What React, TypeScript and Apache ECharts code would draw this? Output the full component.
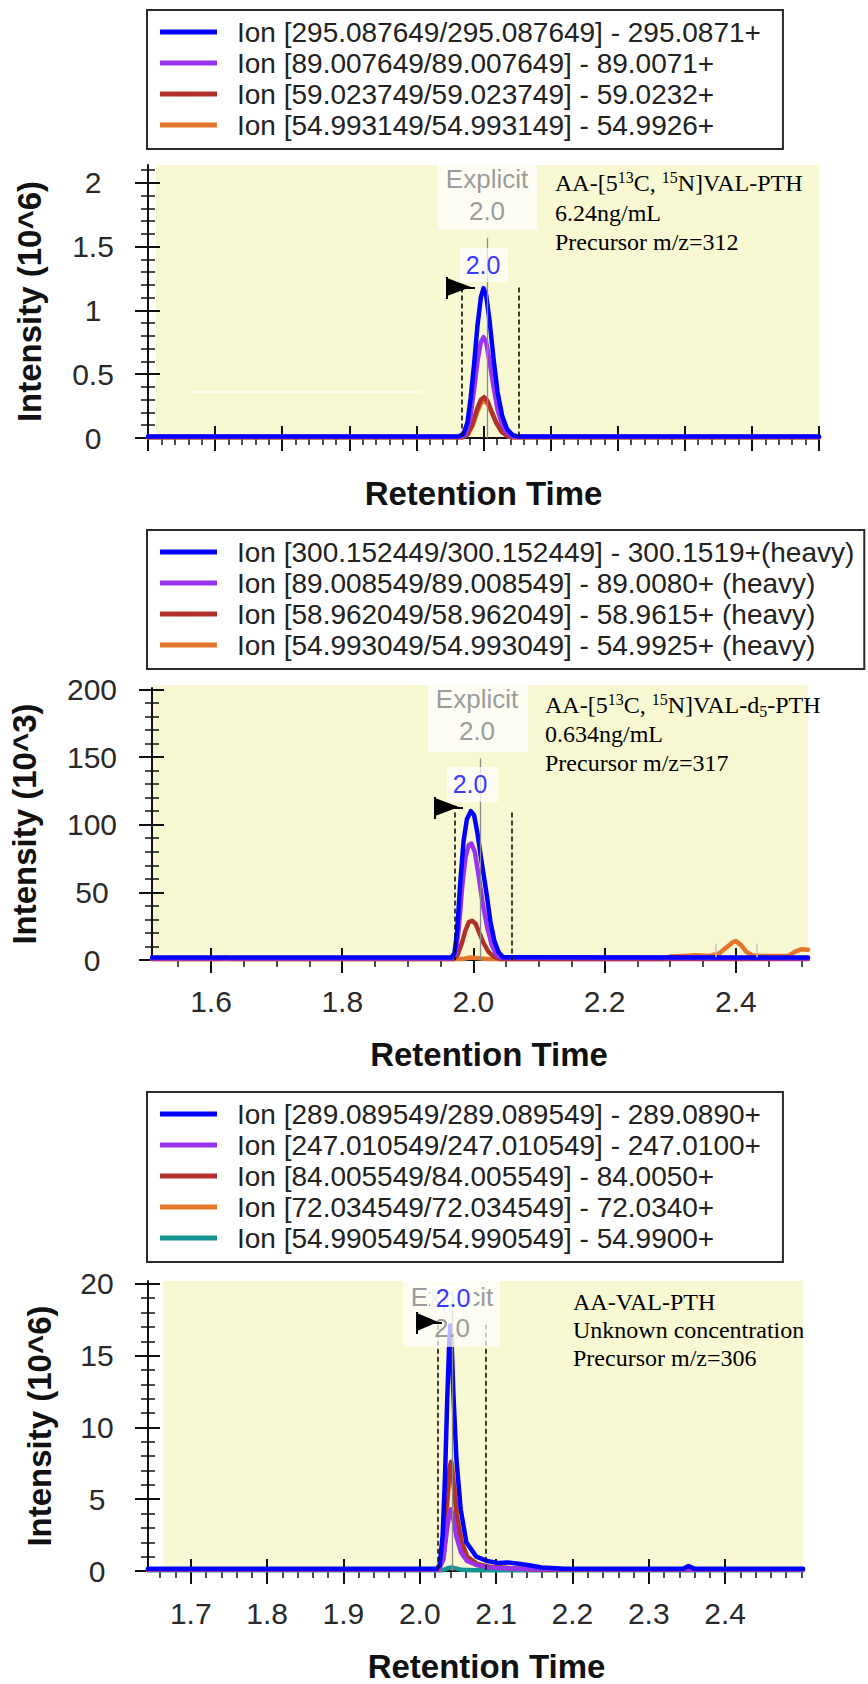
import React, { useEffect, useRef } from "react";
import * as echarts from "echarts";

// ---------------- DATA ----------------
const p1Names = [
  "Ion [295.087649/295.087649] - 295.0871+",
  "Ion [89.007649/89.007649] - 89.0071+",
  "Ion [59.023749/59.023749] - 59.0232+",
  "Ion [54.993149/54.993149] - 54.9926+",
];
const p2Names = [
  "Ion [300.152449/300.152449] - 300.1519+(heavy)",
  "Ion [89.008549/89.008549] - 89.0080+ (heavy)",
  "Ion [58.962049/58.962049] - 58.9615+ (heavy)",
  "Ion [54.993049/54.993049] - 54.9925+ (heavy)",
];
const p3Names = [
  "Ion [289.089549/289.089549] - 289.0890+",
  "Ion [247.010549/247.010549] - 247.0100+",
  "Ion [84.005549/84.005549] - 84.0050+",
  "Ion [72.034549/72.034549] - 72.0340+",
  "Ion [54.990549/54.990549] - 54.9900+",
];
const ionColors = ["#0000ff", "#9933ee", "#b0302a", "#e5762a", "#15958f"];

// Panel 1: retention time (min) vs intensity (10^6)
const p1Blue = [[1.5, 0.012], [1.962, 0.012], [1.970, 0.03], [1.976, 0.12], [1.981, 0.32], [1.986, 0.58], [1.991, 0.88], [1.996, 1.10], [2.000, 1.175], [2.004, 1.12], [2.009, 0.92], [2.015, 0.62], [2.021, 0.36], [2.028, 0.17], [2.035, 0.07], [2.043, 0.025], [2.050, 0.012], [2.5, 0.012]];
const p1Purple = [[1.5, 0.01], [1.966, 0.01], [1.973, 0.03], [1.980, 0.15], [1.986, 0.38], [1.991, 0.6], [1.996, 0.75], [2.000, 0.79], [2.004, 0.75], [2.009, 0.6], [2.015, 0.4], [2.021, 0.22], [2.028, 0.1], [2.036, 0.035], [2.045, 0.01], [2.5, 0.01]];
const p1Red = [[1.5, 0.006], [1.968, 0.006], [1.976, 0.03], [1.983, 0.1], [1.990, 0.22], [1.996, 0.3], [2.001, 0.32], [2.006, 0.29], [2.012, 0.21], [2.019, 0.12], [2.027, 0.05], [2.036, 0.015], [2.045, 0.006], [2.5, 0.006]];
const p1Orange = [[1.5, 0.005], [1.969, 0.005], [1.977, 0.03], [1.984, 0.1], [1.991, 0.21], [1.997, 0.28], [2.002, 0.29], [2.007, 0.26], [2.013, 0.19], [2.020, 0.11], [2.028, 0.045], [2.037, 0.012], [2.046, 0.005], [2.5, 0.005]];
const p1Bounds = [1.967, 2.052];
const p1BoundTop = 1.18;
const p1Rt = 2.005;
const p1RtTop = 1.57;

// Panel 2: retention time (min) vs intensity (10^3)
const p2Blue = [[1.51, 1.8], [1.966, 1.8], [1.971, 5], [1.975, 20], [1.980, 58], [1.985, 88], [1.990, 104], [1.996, 110], [2.001, 107], [2.006, 94], [2.012, 74], [2.020, 49], [2.026, 28], [2.032, 14], [2.038, 6], [2.045, 2], [2.51, 1.8]];
const p2Purple = [[1.51, 1.2], [1.968, 1.2], [1.973, 5], [1.978, 25], [1.983, 55], [1.988, 76], [1.993, 85], [1.997, 86], [2.002, 80], [2.008, 62], [2.014, 42], [2.021, 24], [2.028, 11], [2.035, 4], [2.042, 1.5], [2.51, 1.2]];
const p2Red = [[1.51, 0.8], [1.970, 0.8], [1.976, 4], [1.982, 12], [1.988, 22], [1.993, 28], [1.998, 29], [2.003, 27], [2.009, 20], [2.016, 12], [2.023, 6], [2.031, 2.5], [2.040, 0.8], [2.51, 0.8]];
const p2Orange = [[1.51, 0.8], [1.615, 0.8], [1.622, 2], [1.63, 0.8], [1.985, 0.8], [1.995, 1.8], [2.005, 1.5], [2.02, 0.8], [2.29, 0.8], [2.30, 2.5], [2.32, 3], [2.34, 3.5], [2.36, 3], [2.375, 5], [2.385, 9], [2.395, 13], [2.40, 14], [2.408, 11], [2.416, 6], [2.425, 3.5], [2.44, 3], [2.46, 3], [2.48, 3], [2.49, 6], [2.50, 8], [2.51, 7.5]];
const p2Bounds = [1.971, 2.059];
const p2BoundTop = 109;
const p2Rt = 2.011;
const p2RtTop = 149;
const p2OrangeBounds = [2.369, 2.432];
const p2OrangeBoundTop = 12;

// Panel 3: retention time (min) vs intensity (10^6)
const p3Blue = [[1.644, 0.15], [2.022, 0.15], [2.026, 0.4], [2.030, 2.5], [2.033, 6.5], [2.036, 12], [2.0385, 15.8], [2.040, 17.1], [2.042, 15.5], [2.044, 12.4], [2.048, 7.8], [2.0536, 4.3], [2.061, 2], [2.074, 1], [2.088, 0.7], [2.104, 0.55], [2.115, 0.6], [2.13, 0.5], [2.143, 0.4], [2.16, 0.25], [2.19, 0.15], [2.345, 0.15], [2.352, 0.35], [2.36, 0.15], [2.502, 0.15]];
const p3Purple = [[1.644, 0.1], [2.025, 0.1], [2.031, 0.8], [2.035, 2.6], [2.039, 4.1], [2.041, 4.3], [2.044, 3.6], [2.048, 2.4], [2.054, 1.3], [2.062, 0.7], [2.075, 0.4], [2.09, 0.25], [2.11, 0.2], [2.14, 0.12], [2.502, 0.1]];
const p3Red = [[1.644, 0.08], [2.025, 0.08], [2.031, 1.5], [2.035, 4.5], [2.039, 7.2], [2.041, 7.6], [2.044, 6.2], [2.048, 4.0], [2.054, 2.1], [2.062, 1.0], [2.075, 0.5], [2.09, 0.3], [2.12, 0.2], [2.15, 0.1], [2.502, 0.08]];
const p3Orange = [[1.644, 0.08], [2.026, 0.08], [2.032, 1.6], [2.036, 4.6], [2.040, 7.3], [2.042, 7.5], [2.045, 6.0], [2.049, 3.8], [2.055, 2.0], [2.063, 0.9], [2.076, 0.45], [2.09, 0.3], [2.12, 0.18], [2.15, 0.1], [2.502, 0.08]];
const p3Teal = [[1.644, 0.05], [2.030, 0.05], [2.037, 0.2], [2.041, 0.25], [2.046, 0.2], [2.055, 0.08], [2.07, 0.05], [2.502, 0.05]];
const p3Bounds = [2.023, 2.087];
const p3BoundTop = 17.15;
const p3Rt = 2.042;
const p3RtTop = 19.6;

// Axis ticks
const p1XMajor = [1.5, 1.6, 1.7, 1.8, 1.9, 2.0, 2.1, 2.2, 2.3, 2.4, 2.5];
const p2XMajor = [1.6, 1.8, 2.0, 2.2, 2.4];
const p3XMajor = [1.7, 1.8, 1.9, 2.0, 2.1, 2.2, 2.3, 2.4];
const p1YMajor = [0, 0.5, 1, 1.5, 2];
const p2YMajor = [0, 50, 100, 150, 200];
const p3YMajor = [0, 5, 10, 15, 20];

function steps(from: number, to: number, step: number) {
  const out: number[] = [];
  const n = Math.round((to - from) / step);
  for (let i = 0; i <= n; i++) out.push(Math.round((from + i * step) * 1e6) / 1e6);
  return out;
}

// ---------------- STYLE ----------------
const SANS = '"Liberation Sans", Arial, sans-serif';
const SERIF = '"Liberation Serif", "Times New Roman", serif';
const INK = "#111";

type Panel = {
  grid: { left: number; top: number; width: number; height: number };
  xMin: number; xMax: number; xMajor: number[]; xMinor: number[];
  xLabels: boolean; xLabelMargin: number; xNameGap: number; xNamePad: number;
  yMax: number; yMajor: number[]; yMinor: number[]; yLabelMargin: number;
  yName: string; yNameGap: number;
  names: string[]; data: number[][][];
  legendTop: number; legendGap: number; legendPad: number[];
  bounds: number[]; boundTop: number; rt: number; rtTop: number;
  extraMarks?: any[];
};

function buildOption() {
  const panels: Panel[] = [
    {
      grid: { left: 148, top: 165, width: 671, height: 273 },
      xMin: 1.5, xMax: 2.5, xMajor: p1XMajor, xMinor: steps(1.5, 2.5, 0.02),
      xLabels: false, xLabelMargin: 27, xNameGap: 39, xNamePad: 0,
      yMax: 2.14, yMajor: p1YMajor, yMinor: steps(0, 2.1, 0.1), yLabelMargin: 55,
      yName: "Intensity (10^6)", yNameGap: 102,
      names: p1Names, data: [p1Blue, p1Purple, p1Red, p1Orange],
      legendTop: 10, legendGap: 3, legendPad: [8, 22, 10, 13],
      bounds: p1Bounds, boundTop: p1BoundTop, rt: p1Rt, rtTop: p1RtTop,
    },
    {
      grid: { left: 148, top: 688, width: 660, height: 272 },
      xMin: 1.51, xMax: 2.51, xMajor: p2XMajor, xMinor: steps(1.55, 2.5, 0.05),
      xLabels: true, xLabelMargin: 26, xNameGap: 78, xNamePad: 18,
      yMax: 201, yMajor: p2YMajor, yMinor: steps(0, 200, 10), yLabelMargin: 60,
      yName: "Intensity (10^3)", yNameGap: 111,
      names: p2Names, data: [p2Blue, p2Purple, p2Red, p2Orange],
      legendTop: 530, legendGap: 3, legendPad: [8, 10, 10, 13],
      bounds: p2Bounds, boundTop: p2BoundTop, rt: p2Rt, rtTop: p2RtTop,
      extraMarks: p2OrangeBounds.map((x) => [
        { coord: [x, p2OrangeBoundTop] },
        { coord: [x, 2] },
      ]),
    },
    {
      grid: { left: 148, top: 1281, width: 655, height: 291 },
      xMin: 1.644, xMax: 2.502, xMajor: p3XMajor, xMinor: steps(1.66, 2.5, 0.02),
      xLabels: true, xLabelMargin: 27, xNameGap: 79, xNamePad: 22,
      yMax: 20.2, yMajor: p3YMajor, yMinor: steps(0, 20, 1), yLabelMargin: 51,
      yName: "Intensity (10^6)", yNameGap: 92,
      names: p3Names, data: [p3Blue, p3Purple, p3Red, p3Orange, p3Teal],
      legendTop: 1092, legendGap: 3, legendPad: [8, 22, 10, 13],
      bounds: p3Bounds, boundTop: p3BoundTop, rt: p3Rt, rtTop: p3RtTop,
    },
  ];

  const grids: any[] = [];
  const xAxes: any[] = [];
  const yAxes: any[] = [];
  const series: any[] = [];
  const legends: any[] = [];

  const tickLine = (w: number) => ({ color: INK, width: w });
  const titleStyle = { fontFamily: SANS, fontWeight: "bold", fontSize: 33, color: INK };

  panels.forEach((p, gi) => {
    grids.push({ ...p.grid, containLabel: false });
    const xb = xAxes.length;
    const yb = yAxes.length;
    const xCommon = {
      gridIndex: gi, type: "value", position: "bottom", min: p.xMin, max: p.xMax,
      splitLine: { show: false },
    };
    xAxes.push({
      ...xCommon,
      axisLine: { show: true, onZero: false, lineStyle: { color: INK, width: 2 } },
      axisTick: { show: true, inside: false, length: 13, customValues: p.xMajor, lineStyle: tickLine(2) },
      axisLabel: {
        show: p.xLabels, customValues: p.xMajor, margin: p.xLabelMargin,
        formatter: (v: number) => v.toFixed(1),
        fontFamily: SANS, fontSize: 30, color: "#2a2a2a",
      },
      name: "Retention Time", nameLocation: "middle", nameGap: p.xNameGap,
      nameTextStyle: { ...titleStyle, padding: [0, 0, 0, p.xNamePad] },
    });
    xAxes.push({
      ...xCommon,
      axisLine: { show: false, onZero: false },
      axisTick: { show: true, inside: true, length: 12, customValues: p.xMajor, lineStyle: tickLine(2) },
      axisLabel: { show: false },
    });
    xAxes.push({
      ...xCommon,
      axisLine: { show: false, onZero: false },
      axisTick: { show: true, inside: false, length: 7, customValues: p.xMinor, lineStyle: tickLine(1.5) },
      axisLabel: { show: false },
    });

    const yCommon = {
      gridIndex: gi, type: "value", position: "left", min: 0, max: p.yMax,
      splitLine: { show: false },
    };
    yAxes.push({
      ...yCommon,
      axisLine: { show: true, onZero: false, lineStyle: { color: INK, width: 2 } },
      axisTick: { show: true, inside: false, length: 13, customValues: p.yMajor, lineStyle: tickLine(2) },
      axisLabel: {
        show: true, customValues: p.yMajor, margin: p.yLabelMargin, align: "center",
        fontFamily: SANS, fontSize: 30, color: "#2a2a2a",
      },
      name: p.yName, nameLocation: "middle", nameGap: p.yNameGap, nameRotate: 90,
      nameTextStyle: titleStyle,
    });
    yAxes.push({
      ...yCommon,
      axisLine: { show: false, onZero: false },
      axisTick: { show: true, inside: true, length: 12, customValues: p.yMajor, lineStyle: tickLine(2) },
      axisLabel: { show: false },
    });
    yAxes.push({
      ...yCommon,
      axisLine: { show: false, onZero: false },
      axisTick: { show: true, inside: false, length: 7, customValues: p.yMinor, lineStyle: tickLine(1.5) },
      axisLabel: { show: false },
    });
    yAxes.push({
      ...yCommon,
      axisLine: { show: false, onZero: false },
      axisTick: { show: true, inside: true, length: 7, customValues: p.yMinor, lineStyle: tickLine(1.5) },
      axisLabel: { show: false },
    });

    // series: draw in reverse so the first ion (blue) is on top
    for (let i = p.names.length - 1; i >= 0; i--) {
      const s: any = {
        type: "line",
        name: p.names[i],
        xAxisIndex: xb,
        yAxisIndex: yb,
        data: p.data[i],
        symbol: "none",
        smooth: false,
        lineStyle: { color: ionColors[i], width: 4.5, join: "round", cap: "round" },
        itemStyle: { color: ionColors[i] },
        z: 3,
      };
      if (i === 0) {
        s.markLine = {
          silent: true,
          symbol: ["none", "none"],
          label: { show: false },
          animation: false,
          data: [
            ...p.bounds.map((x) => [
              { coord: [x, p.boundTop], lineStyle: { color: INK, width: 1.6, type: [5, 3] } },
              { coord: [x, 0] },
            ]),
            [
              { coord: [p.rt, p.rtTop], lineStyle: { color: "#8a8a8a", width: 1.3, type: "solid" } },
              { coord: [p.rt, 0] },
            ],
          ],
        };
      }
      if (i === 3 && p.extraMarks) {
        s.markLine = {
          silent: true,
          symbol: ["none", "none"],
          label: { show: false },
          animation: false,
          lineStyle: { color: "#c9c9c9", width: 1.5, type: "solid" },
          data: p.extraMarks,
        };
      }
      series.push(s);
    }

    legends.push({
      orient: "vertical",
      left: 147,
      top: p.legendTop,
      data: p.names,
      icon: "path://M0,0L57,0L57,5L0,5ZM72,0L72,5Z",
      itemWidth: 72,
      itemHeight: 5,
      itemGap: p.legendGap,
      padding: p.legendPad,
      borderColor: "#2a2a2a",
      borderWidth: 2,
      backgroundColor: "#ffffff",
      itemStyle: { borderWidth: 0 },
      textStyle: { fontFamily: SANS, fontSize: 28, color: "#222", lineHeight: 28 },
      selectedMode: false,
    });
  });

  // ---------------- Decorations (annotations) ----------------
  const YELLOW = "#f8f8d3";
  const boxFill = "rgba(255,255,255,0.72)";
  const grayTxt = { fontFamily: SANS, fontSize: 26, fill: "#9c9c9c", align: "center", verticalAlign: "middle" };
  const blueTxt = { fontFamily: SANS, fontSize: 25, fill: "#3a3aff", align: "center", verticalAlign: "middle" };
  const rich = {
    n: { fontFamily: SERIF, fontSize: 24, lineHeight: 28, fill: "#000", color: "#000" },
    sp: { fontFamily: SERIF, fontSize: 16, verticalAlign: "top", fill: "#000", color: "#000" },
    sb: { fontFamily: SERIF, fontSize: 16, verticalAlign: "bottom", fill: "#000", color: "#000" },
  };
  const annot = (x: number, y: number, text: string) => ({
    type: "text", x, y, z: 60,
    style: { text, rich, fontFamily: SERIF, fontSize: 24, fill: "#000", align: "left", verticalAlign: "middle" },
  });
  const flag = (x: number, y1: number, y2: number, tip: number) => [
    { type: "polygon", z: 70, shape: { points: [[x, y1], [tip, (y1 + y2) / 2], [x, y2]] }, style: { fill: "#000" } },
    { type: "line", z: 70, shape: { x1: x, y1: y1 - 1, x2: x, y2: y2 + 3 }, style: { stroke: "#000", lineWidth: 2 } },
    { type: "line", z: 70, shape: { x1: tip - 8, y1: (y1 + y2) / 2 + 1, x2: tip + 4, y2: (y1 + y2) / 2 + 1 }, style: { stroke: "#000", lineWidth: 2 } },
  ];

  const graphic: any[] = [
    // yellow plot backgrounds
    { type: "rect", z: -10, shape: { x: 156, y: 165, width: 663, height: 272 }, style: { fill: YELLOW } },
    { type: "rect", z: -10, shape: { x: 153, y: 685, width: 655, height: 274 }, style: { fill: YELLOW } },
    { type: "rect", z: -10, shape: { x: 163, y: 1281, width: 640, height: 290 }, style: { fill: YELLOW } },
    // stray white line in panel 1
    { type: "line", z: -5, shape: { x1: 193, y1: 392, x2: 422, y2: 392 }, style: { stroke: "#ffffff", lineWidth: 1.5 } },

    // panel 1 peak labels
    { type: "rect", z: 40, shape: { x: 438, y: 165, width: 99, height: 65 }, style: { fill: boxFill } },
    { type: "text", z: 45, x: 487, y: 179, style: { ...grayTxt, text: "Explicit" } },
    { type: "text", z: 45, x: 487, y: 211, style: { ...grayTxt, text: "2.0" } },
    { type: "rect", z: 46, shape: { x: 460, y: 248, width: 48, height: 34 }, style: { fill: boxFill } },
    { type: "text", z: 47, x: 483, y: 265, style: { ...blueTxt, text: "2.0" } },
    ...flag(447, 278, 296, 471),
    annot(555, 183, "{n|AA-[5}{sp|13}{n|C, }{sp|15}{n|N]VAL-PTH}"),
    annot(555, 213, "{n|6.24ng/mL}"),
    annot(555, 242, "{n|Precursor m/z=312}"),

    // panel 2 peak labels
    { type: "rect", z: 40, shape: { x: 428, y: 685, width: 100, height: 67 }, style: { fill: boxFill } },
    { type: "text", z: 45, x: 477, y: 699, style: { ...grayTxt, text: "Explicit" } },
    { type: "text", z: 45, x: 477, y: 731, style: { ...grayTxt, text: "2.0" } },
    { type: "rect", z: 46, shape: { x: 447, y: 767, width: 51, height: 35 }, style: { fill: boxFill } },
    { type: "text", z: 47, x: 470, y: 784, style: { ...blueTxt, text: "2.0" } },
    ...flag(435, 798, 816, 459),
    annot(545, 705, "{n|AA-[5}{sp|13}{n|C, }{sp|15}{n|N]VAL-d}{sb|5}{n|-PTH}"),
    annot(545, 734, "{n|0.634ng/mL}"),
    annot(545, 763, "{n|Precursor m/z=317}"),

    // panel 3 peak labels
    { type: "rect", z: 40, shape: { x: 403, y: 1280, width: 97, height: 67 }, style: { fill: boxFill } },
    { type: "text", z: 45, x: 452, y: 1297, style: { ...grayTxt, text: "Explicit" } },
    { type: "text", z: 45, x: 452, y: 1328, style: { ...grayTxt, text: "2.0" } },
    { type: "rect", z: 46, shape: { x: 430, y: 1286, width: 44, height: 25 }, style: { fill: "rgba(255,255,255,0.85)" } },
    { type: "text", z: 47, x: 453, y: 1298, style: { ...blueTxt, text: "2.0" } },
    ...flag(417, 1313, 1331, 438),
    annot(573, 1302, "{n|AA-VAL-PTH}"),
    annot(573, 1330, "{n|Unknown concentration}"),
    annot(573, 1358, "{n|Precursor m/z=306}"),
  ];

  return {
    animation: false,
    backgroundColor: "#ffffff",
    grid: grids,
    xAxis: xAxes,
    yAxis: yAxes,
    legend: legends,
    series,
    graphic,
  };
}

export default function App() {
  const ref = useRef<HTMLDivElement>(null);
  useEffect(() => {
    if (!ref.current) return;
    const chart = echarts.init(ref.current, null, { renderer: "svg" });
    chart.setOption(buildOption() as any);
    return () => chart.dispose();
  }, []);
  return (
    <div
      ref={ref}
      style={{ position: "absolute", left: 0, top: 0, width: 868, height: 1684, background: "#fff" }}
    />
  );
}
